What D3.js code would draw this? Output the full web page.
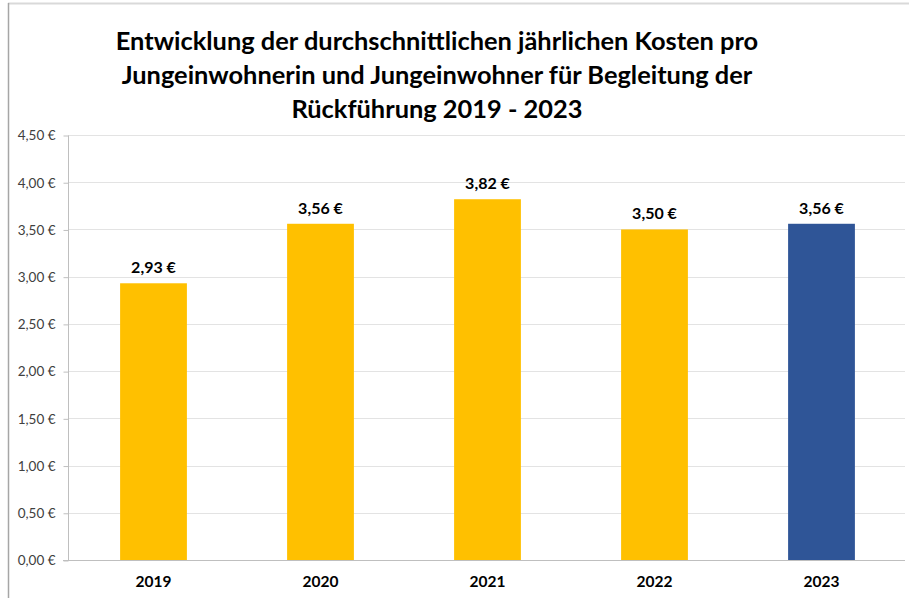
<!DOCTYPE html>
<html>
<head>
<meta charset="utf-8">
<script src="https://cdn.jsdelivr.net/npm/d3@7"></script>
<style>
  body { margin: 0; background: #fff; }
  text { font-family: Lato, "Open Sans", sans-serif; }
</style>
</head>
<body>
<div class="canvas"></div>
<script>
var width = 909,
   height = 598;

var years = ['2019', '2020', '2021', '2022', '2023'];
var costs = [2.93, 3.56, 3.82, 3.50, 3.56];
var yTicks = [0, 0.5, 1, 1.5, 2, 2.5, 3, 3.5, 4, 4.5];
var titleLines = [
   'Entwicklung der durchschnittlichen jährlichen Kosten pro',
   'Jungeinwohnerin und Jungeinwohner für Begleitung der',
   'Rückführung 2019 - 2023'
];

var margin = {left: 68, right: 6, top: 135, bottom: 38};

var fmt = function(v) { return v.toFixed(2).replace('.', ',') + ' €'; };

var svg = d3.select('.canvas')
   .append('svg')
   .attr('width', width)
   .attr('height', height);

// frame lines
svg.append('line')
   .attr('x1', 8).attr('x2', width).attr('y1', 3.5).attr('y2', 3.5)
   .attr('stroke', '#d9d9d9').attr('stroke-width', 2);
svg.append('line')
   .attr('x1', 8.5).attr('x2', 8.5).attr('y1', 3).attr('y2', height)
   .attr('stroke', '#a6a6a6').attr('stroke-width', 1.5);

var x = d3.scaleBand()
   .domain(years)
   .range([margin.left + 2, width - margin.right + 2])
   .paddingInner(0.6)
   .paddingOuter(0.3);

var y = d3.scaleLinear()
   .domain([0, 4.5])
   .range([height - margin.bottom, margin.top]);

// gridlines
svg.append('g')
   .selectAll('line')
   .data(yTicks.slice(1))
   .enter().append('line')
      .attr('x1', margin.left)
      .attr('x2', width - margin.right + 2)
      .attr('y1', d => Math.round(y(d)) + 0.5)
      .attr('y2', d => Math.round(y(d)) + 0.5)
      .attr('stroke', '#e3e3e3');

// y axis
var yAxis = svg.append('g')
   .attr('transform', 'translate(' + (margin.left + 0.5) + ',0.5)')
   .call(d3.axisLeft(y).tickValues(yTicks).tickFormat(fmt).tickSize(5).tickPadding(8));
yAxis.selectAll('path, line').attr('stroke', '#bfbfbf');
yAxis.select('.domain').attr('d', 'M0,' + y(4.5) + 'V' + y(0));
yAxis.selectAll('text')
   .attr('fill', '#404040')
   .style('font-size', '13.5px')
   .style('font-family', 'Lato, sans-serif');

// x axis baseline
svg.append('line')
   .attr('x1', margin.left - 5)
   .attr('x2', width - margin.right + 2)
   .attr('y1', y(0) + 0.5).attr('y2', y(0) + 0.5)
   .attr('stroke', '#bfbfbf');

// bars
svg.append('g')
   .selectAll('rect')
   .data(costs)
   .enter().append('rect')
      .attr('x', (d, i) => x(years[i]))
      .attr('width', x.bandwidth())
      .attr('y', d => y(d))
      .attr('height', d => y(0) - y(d))
      .attr('fill', (d, i) => i === years.length - 1 ? '#2F5597' : '#FFC000');

// value labels
svg.append('g')
   .selectAll('text')
   .data(costs)
   .enter().append('text')
      .attr('x', (d, i) => x(years[i]) + x.bandwidth() / 2)
      .attr('y', d => y(d) - 10)
      .attr('text-anchor', 'middle')
      .attr('font-size', '16px')
      .attr('font-weight', 'bold')
      .attr('fill', '#000')
      .text(fmt);

// category labels
svg.append('g')
   .selectAll('text')
   .data(years)
   .enter().append('text')
      .attr('x', d => x(d) + x.bandwidth() / 2)
      .attr('y', height - 11)
      .attr('text-anchor', 'middle')
      .attr('font-size', '15.5px')
      .attr('font-weight', 'bold')
      .attr('fill', '#000')
      .text(d => d);

// title
svg.append('g')
   .selectAll('text')
   .data(titleLines)
   .enter().append('text')
      .attr('x', 437)
      .attr('y', (d, i) => 50 + i * 34)
      .attr('text-anchor', 'middle')
      .attr('font-size', '25.4px')
      .attr('font-weight', 'bold')
      .attr('fill', '#000')
      .text(d => d);
</script>
</body>
</html>
